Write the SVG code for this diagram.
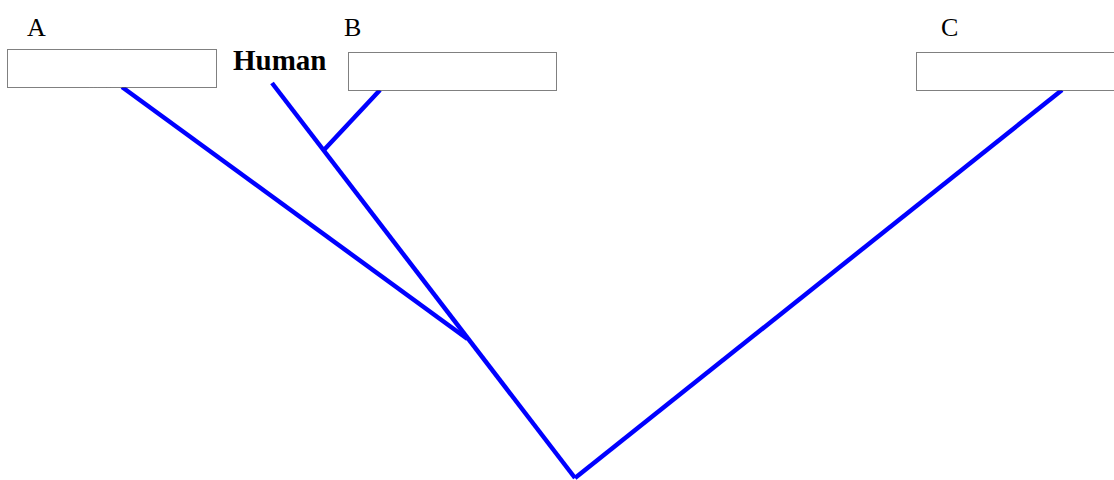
<svg xmlns="http://www.w3.org/2000/svg" width="1114" height="480" viewBox="0 0 1114 480">
<style>
.box{fill:#fff;stroke:#000;stroke-width:1;stroke-dasharray:1 1}
.lbl{font-family:"Liberation Serif",serif;font-size:26px;fill:#000}
.hum{font-family:"Liberation Serif",serif;font-size:29px;font-weight:bold;fill:#000}
.ln{stroke:#0000ff;stroke-width:4.5;fill:none;stroke-linecap:butt}
</style>
<rect width="1114" height="480" fill="#fff"/>
<g id="connectors">
<line class="ln" x1="122" y1="87" x2="467.5" y2="339"/>
<line class="ln" x1="272" y1="83" x2="575" y2="478"/>
<line class="ln" x1="380" y1="90" x2="323" y2="151"/>
<line class="ln" x1="1062" y1="90" x2="575" y2="478"/>
</g>
<g id="nodeA">
<text class="lbl" x="27" y="36">A</text>
<rect class="box" x="7.5" y="49.5" width="209" height="38"/>
</g>
<g id="nodeHuman">
<text class="hum" x="233" y="70">Human</text>
</g>
<g id="nodeB">
<text class="lbl" x="344" y="36">B</text>
<rect class="box" x="348.5" y="52.5" width="208" height="38"/>
</g>
<g id="nodeC">
<text class="lbl" x="941" y="36">C</text>
<rect class="box" x="916.5" y="52.5" width="210" height="38"/>
</g>
</svg>
